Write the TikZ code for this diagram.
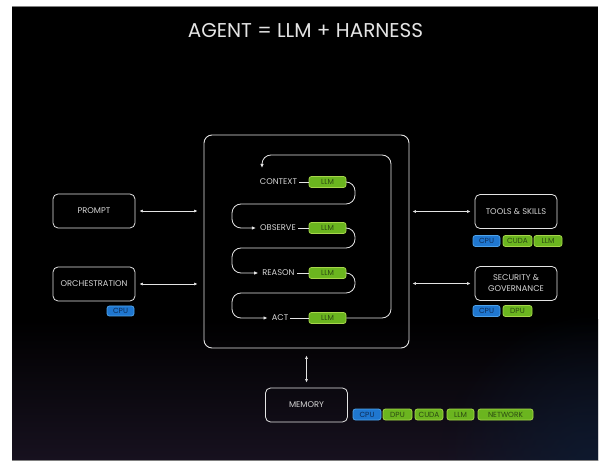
\documentclass[tikz,border=0pt]{standalone}
\usepackage{fontspec}
\setmainfont{Poppins}
\usetikzlibrary{arrows.meta,fadings,calc}

\definecolor{inkline}{HTML}{E4E4E4}
\definecolor{inktext}{HTML}{D6D6D6}
\definecolor{nvgreen}{HTML}{6BB51F}
\definecolor{nvgreenedge}{HTML}{A6D64A}
\definecolor{nvgreentext}{HTML}{2C4A12}
\definecolor{cpublue}{HTML}{1F77D0}
\definecolor{cpublueedge}{HTML}{4EA2EA}
\definecolor{cpubluetext}{HTML}{0E2D57}
\definecolor{floorpurple}{HTML}{17111F}
\definecolor{floorblue}{HTML}{0B1C33}

\tikzfading[name=glowfade, inner color=transparent!20, outer color=transparent!100]

\tikzset{
  labelfont/.style={font=\fontsize{8.3}{11}\selectfont},
  box/.style={draw=inkline, line width=0.8pt, rounded corners=5pt,
    minimum width=82pt, minimum height=34pt, text=inktext, labelfont, align=center},
  steplabel/.style={text=inktext, labelfont, inner sep=2pt},
  chip/.style={rounded corners=2.5pt, line width=0.8pt, minimum height=11pt,
    inner sep=1pt, font=\fontsize{7.4}{8}\selectfont},
  gchip/.style={chip, fill=nvgreen, draw=nvgreenedge, text=nvgreentext},
  bchip/.style={chip, fill=cpublue, draw=cpublueedge, text=cpubluetext},
  link/.style={draw=inkline, line width=0.6pt,
    {Latex[length=3.5pt,width=3pt]}-{Latex[length=3.5pt,width=3pt]}},
  flow/.style={draw=inkline, line width=0.8pt, rounded corners=9pt,
    -{Latex[length=4pt,width=3.5pt]}},
  tie/.style={draw=inkline, line width=0.6pt}
}

\begin{document}
\begin{tikzpicture}[x=1pt,y=-1pt]
\useasboundingbox (0,0) rectangle (600,462);
% page and dark backdrop
\fill[white] (0,0) rectangle (600,462);
\fill[black] (12,7) rectangle (598,460);
\fill[top color=black, bottom color=floorpurple] (12,320) rectangle (598,460);
\begin{scope}
  \clip (12,7) rectangle (598,460);
  \fill[floorblue, path fading=glowfade] (598,470) circle (160);
\end{scope}
\draw[gray, line width=1pt] (12,6.5) -- (598,6.5);
\draw[gray, line width=1pt] (12,460.5) -- (598,460.5);

% title
\node[text=inkline, font=\fontsize{20}{24}\selectfont] (title) at (305.5,31) {AGENT = LLM + HARNESS};

% harness frame
\node[draw=inkline, line width=0.9pt, rounded corners=8pt,
      minimum width=205pt, minimum height=213pt] (harness) at (306.5,241.5) {};

% agent loop steps
\node[steplabel] (ctx) at (278.5,182) {CONTEXT};
\node[steplabel] (obs) at (278,228) {OBSERVE};
\node[steplabel] (rea) at (278.5,273) {REASON};
\node[steplabel] (act) at (280,318) {ACT};
\node[gchip, minimum width=37pt] (llmA) at (327.5,182) {LLM};
\node[gchip, minimum width=37pt] (llmB) at (327.5,228) {LLM};
\node[gchip, minimum width=37pt] (llmC) at (327.5,273) {LLM};
\node[gchip, minimum width=37pt] (llmD) at (327.5,318) {LLM};
\coordinate (ctxin) at (262,168);

\draw[tie] (ctx) -- (llmA);
\draw[tie] (obs) -- (llmB);
\draw[tie] (rea) -- (llmC);
\draw[tie] (act) -- (llmD);

\draw[flow] (llmA.east) -| (355,204) -| (232,228) -- ([xshift=-2pt]obs.west);
\draw[flow] (llmB.east) -| (355,248) -| (232,273) -- ([xshift=-2pt]rea.west);
\draw[flow] (llmC.east) -| (355,293) -| (232,318) -- ([xshift=-2pt]act.west);
\draw[flow] (llmD.east) -| (391,155) -| (ctxin);

% surrounding components
\node[box] (prompt) at (94,211) {PROMPT};
\node[box] (orch) at (94,284) {ORCHESTRATION};
\node[box] (tools) at (516,211.5) {TOOLS \& SKILLS};
\node[box] (sec) at (516,283.5) {SECURITY \&\\GOVERNANCE};
\node[box] (mem) at (306.5,405) {MEMORY};

% hardware tags
\node[bchip, minimum width=27pt, minimum height=10pt] (orchcpu) at (120.5,311) {CPU};
\node[bchip, minimum width=27pt] (toolcpu) at (486.5,241) {CPU};
\node[gchip, minimum width=29pt] (toolcuda) at (517.5,241) {CUDA};
\node[gchip, minimum width=28pt] (toolllm) at (548,241) {LLM};
\node[bchip, minimum width=27pt] (seccpu) at (486.5,311) {CPU};
\node[gchip, minimum width=29pt] (secdpu) at (517.5,311) {DPU};
\node[bchip, minimum width=28pt] (memcpu) at (367,414.5) {CPU};
\node[gchip, minimum width=29pt] (memdpu) at (397.5,414.5) {DPU};
\node[gchip, minimum width=28pt] (memcuda) at (429,414.5) {CUDA};
\node[gchip, minimum width=27pt] (memllm) at (460.5,414.5) {LLM};
\node[gchip, minimum width=55pt] (memnet) at (505.5,414.5) {NETWORK};

% two-way links to the harness
\draw[link, shorten <=4pt, shorten >=6pt] (prompt.east) -- (prompt.east -| harness.west);
\draw[link, shorten <=4pt, shorten >=6pt] (orch.east) -- (orch.east -| harness.west);
\draw[link, shorten <=4pt, shorten >=3pt] (tools.west) -- (tools.west -| harness.east);
\draw[link, shorten <=4pt, shorten >=3pt] (sec.west) -- (sec.west -| harness.east);
\draw[link, shorten <=7pt, shorten >=5pt] (harness.south) -- (mem.north);
\end{tikzpicture}
\end{document}
